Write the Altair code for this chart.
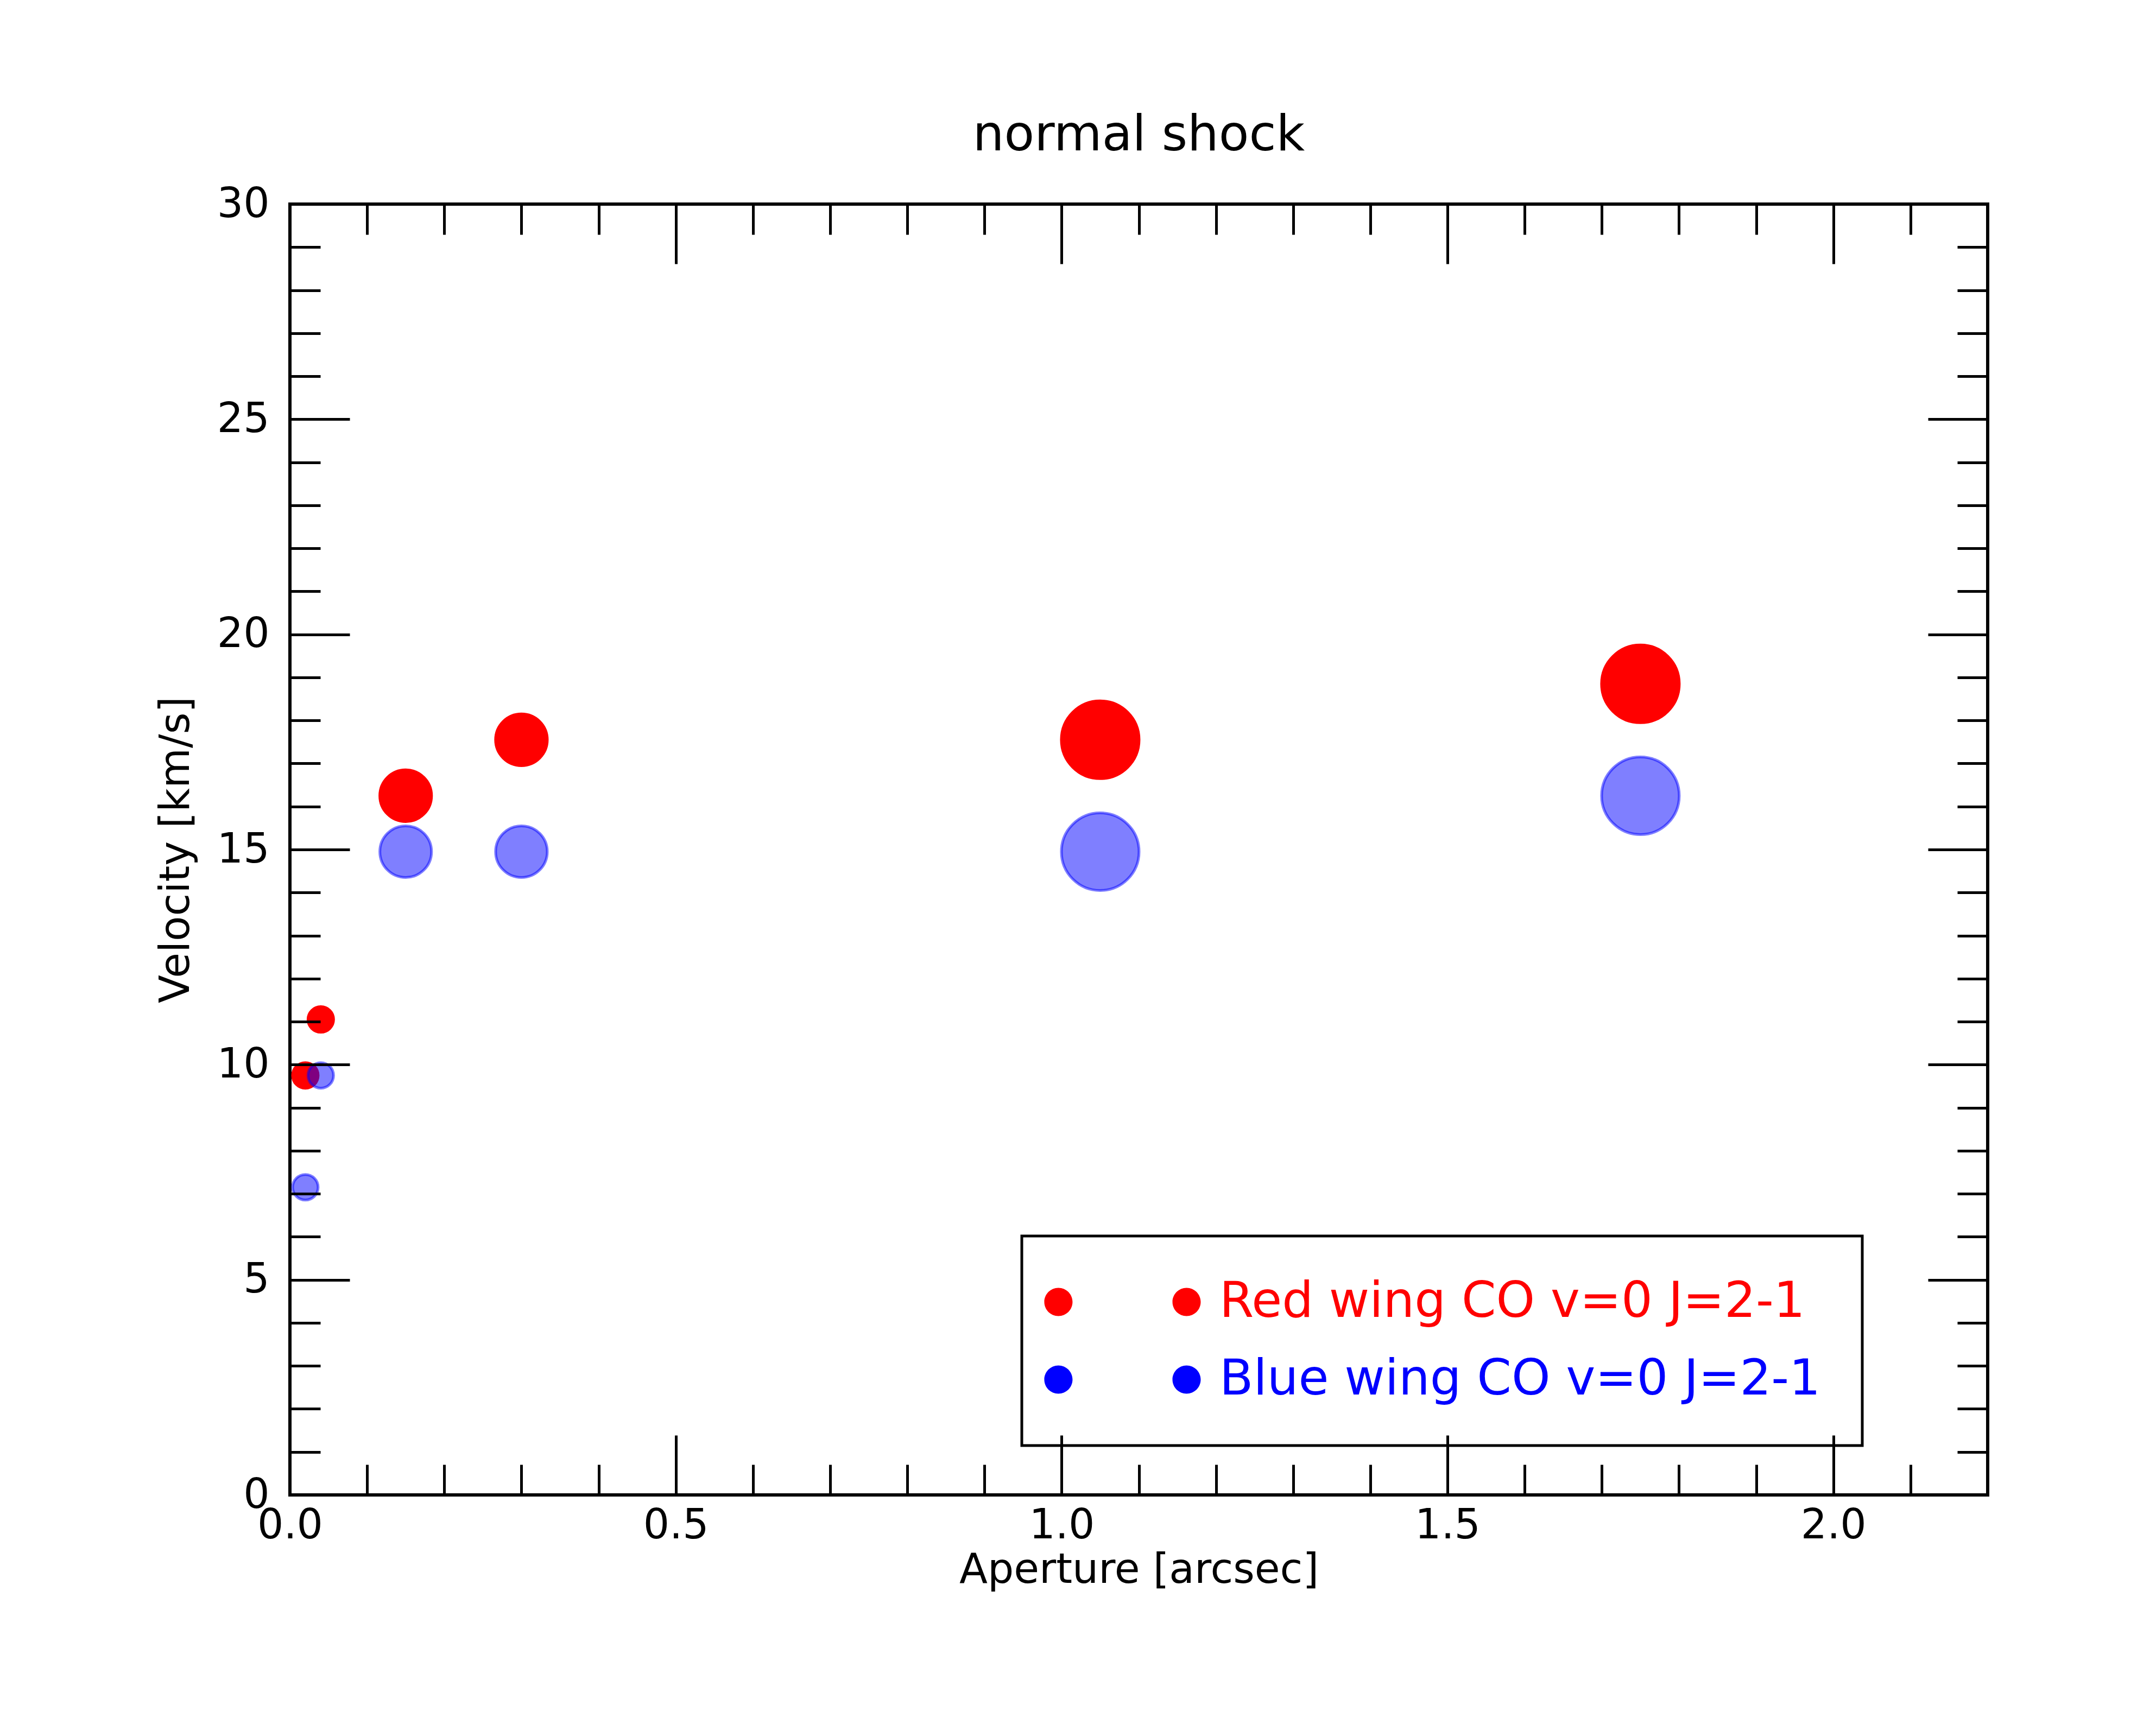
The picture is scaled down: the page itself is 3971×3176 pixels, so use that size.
import altair as alt
import pandas as pd

# ---- data ----
aperture = [0.02, 0.04, 0.15, 0.30, 1.05, 1.75]
red_velocity = [9.75, 11.05, 16.25, 17.55, 17.55, 18.85]
blue_velocity = [7.15, 9.75, 14.95, 14.95, 14.95, 16.25]
marker_level = [1, 1, 2, 2, 3, 3]
series_names = ["Red wing CO v=0 J=2-1", "Blue wing CO v=0 J=2-1"]
series_colors = ["#ff0000", "#0000ff"]

x_major = [0.0, 0.5, 1.0, 1.5, 2.0]
x_minor = [0.1, 0.2, 0.3, 0.4, 0.5, 0.6, 0.7, 0.8, 0.9, 1.0, 1.1,
           1.2, 1.3, 1.4, 1.5, 1.6, 1.7, 1.8, 1.9, 2.0, 2.1]
y_major = [0, 5, 10, 15, 20, 25, 30]
y_minor = [1, 2, 3, 4, 5, 6, 7, 8, 9, 10, 11, 12, 13, 14, 15, 16, 17, 18,
           19, 20, 21, 22, 23, 24, 25, 26, 27, 28, 29]

rows = []
for a, v, m in zip(aperture, red_velocity, marker_level):
    rows.append({"aperture": a, "velocity": v, "level": m, "series": series_names[0]})
for a, v, m in zip(aperture, blue_velocity, marker_level):
    rows.append({"aperture": a, "velocity": v, "level": m, "series": series_names[1]})
df = pd.DataFrame(rows)

FONT = "DejaVu Sans"
W, H = 3127, 2378
MAJ, MIN = 110, 56

xs = alt.Scale(domain=[0, 2.2], nice=False, zero=False)
ys = alt.Scale(domain=[0, 30], nice=False, zero=False)

common = dict(grid=False, domain=False, tickColor="black", tickWidth=5,
              labelFont=FONT, labelFontSize=76, labelColor="black",
              titleFont=FONT, titleFontSize=76, titleFontWeight="normal",
              titleColor="black", zindex=1, labelFlush=False)

ax_bottom_major = alt.Axis(orient="bottom", values=x_major, format=".1f",
                           tickSize=MAJ, offset=-MAJ, labelPadding=19,
                           title="Aperture [arcsec]", titleBaseline="alphabetic",
                           titleY=271, **common)
ax_left_major = alt.Axis(orient="left", values=y_major, format="d",
                         tickSize=MAJ, offset=-MAJ, labelPadding=38,
                         title="Velocity [km/s]", titleBaseline="alphabetic",
                         titleX=-297, titleAngle=270, **common)
ax_bottom_minor = alt.Axis(orient="bottom", values=x_minor, tickSize=MIN,
                           offset=-MIN, labels=False, title=None, **common)
ax_left_minor = alt.Axis(orient="left", values=y_minor, tickSize=MIN,
                         offset=-MIN, labels=False, title=None, **common)
ax_top_major = alt.Axis(orient="top", values=x_major, tickSize=MAJ,
                        offset=-MAJ, labels=False, title=None, **common)
ax_right_major = alt.Axis(orient="right", values=y_major, tickSize=MAJ,
                          offset=-MAJ, labels=False, title=None, **common)
ax_top_minor = alt.Axis(orient="top", values=x_minor, tickSize=MIN,
                        offset=-MIN, labels=False, title=None, **common)
ax_right_minor = alt.Axis(orient="right", values=y_minor, tickSize=MIN,
                          offset=-MIN, labels=False, title=None, **common)

# legend symbol: two markers per entry (unit = marker radius)
two_dots = ("M -3.08 0 A 1 1 0 1 1 -1.08 0 A 1 1 0 1 1 -3.08 0 Z "
            "M 6.0 0 A 1 1 0 1 1 8.0 0 A 1 1 0 1 1 6.0 0 Z")

legend = alt.Legend(
    title=None, orient="none", legendX=1348, legendY=1901,
    symbolType=two_dots, symbolSize=2704, symbolStrokeWidth=0, symbolOpacity=1,
    labelFont=FONT, labelFontSize=91, labelLimit=4000, labelOffset=197,
    padding=76, rowPadding=51, fillColor="white", strokeColor="black",
    labelColor={"expr": "datum.value === '%s' ? '#ff0000' : '#0000ff'" % series_names[0]},
)

is_blue = alt.datum.series == series_names[1]

points = alt.Chart(df).mark_point(filled=True, shape="circle", strokeWidth=5,
                                  opacity=1).encode(
    x=alt.X("aperture:Q", scale=xs, axis=ax_bottom_major),
    y=alt.Y("velocity:Q", scale=ys, axis=ax_left_major),
    color=alt.Color("series:N", scale=alt.Scale(domain=series_names, range=series_colors),
                    legend=legend),
    stroke=alt.Stroke("series:N", scale=alt.Scale(domain=series_names, range=series_colors),
                      legend=None),
    fillOpacity=alt.condition(is_blue, alt.value(0.5), alt.value(1.0)),
    strokeOpacity=alt.condition(is_blue, alt.value(0.5), alt.value(1.0)),
    size=alt.Size("level:Q", scale=alt.Scale(type="pow", exponent=2, domain=[1, 3],
                                             range=[2209, 20449]), legend=None),
)


def guide_layer(xa, ya):
    return alt.Chart(df).mark_point(opacity=0).encode(
        x=alt.X("aperture:Q", scale=xs, axis=xa),
        y=alt.Y("velocity:Q", scale=ys, axis=ya),
    )


chart = alt.layer(
    points,
    guide_layer(ax_bottom_minor, ax_left_minor),
    guide_layer(ax_top_major, ax_right_major),
    guide_layer(ax_top_minor, ax_right_minor),
).resolve_axis(x="independent", y="independent").properties(
    width=W, height=H,
    background="white",
    autosize=alt.AutoSizeParams(type="none"),
    padding={"left": 526, "top": 368, "right": 300, "bottom": 400},
    title=alt.TitleParams("normal shock", font=FONT, fontSize=91, fontWeight="normal",
                          color="black", anchor="middle", baseline="alphabetic",
                          frame="group", offset=74, dy=104),
).configure_view(stroke="black", strokeWidth=6).configure_legend(
    strokeWidth=5
)

chart.save("out.html", embed_options={"renderer": "svg", "actions": False})
